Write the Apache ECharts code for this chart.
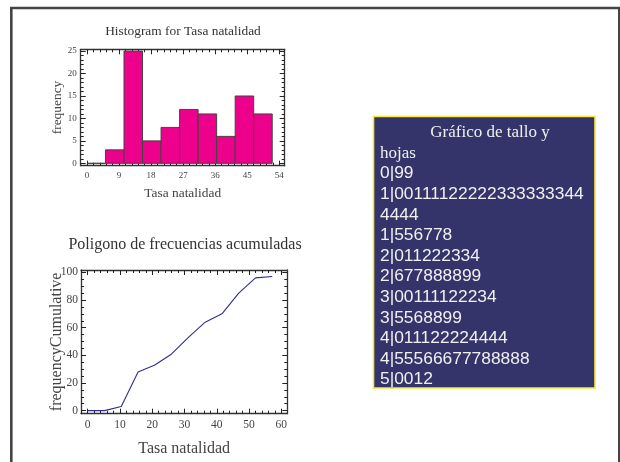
<!DOCTYPE html>
<html>
<head>
<meta charset="utf-8">
<script src="https://cdn.jsdelivr.net/npm/echarts@6/dist/echarts.min.js"></script>
<style>html,body{margin:0;padding:0;background:#fff}#c{width:620px;height:462px}</style>
</head>
<body>
<div id="c"></div>
<script>
// ---- data ----
const histBinLow  = [0, 5.2, 10.4, 15.6, 20.8, 26, 31.2, 36.4, 41.6, 46.8];
const histBinHigh = [5.2, 10.4, 15.6, 20.8, 26, 31.2, 36.4, 41.6, 46.8, 52];
const histCounts  = [0, 3, 25, 5, 8, 12, 11, 6, 15, 11];
const histXTicks  = [0, 9, 18, 27, 36, 45, 54];
const histYTicks  = [0, 5, 10, 15, 20, 25];

const cumX = [0, 5.2, 10.4, 15.6, 20.8, 26, 31.2, 36.4, 41.6, 46.8, 52, 57.2];
const cumY = [0, 0, 3, 28, 33, 41, 53, 64, 70, 85, 96, 97];
const cumXTicks = [0, 10, 20, 30, 40, 50, 60];
const cumYTicks = [0, 20, 40, 60, 80, 100];

const stemTitle = 'Gráfico de tallo y';
const stemSubtitle = 'hojas';
const stemLines = ['0|99', '1|00111122222333333344', '4444', '1|556778', '2|011222334',
  '2|677888899', '3|00111122234', '3|5568899', '4|011122224444', '4|55566677788888', '5|0012'];

// ---- helpers ----
const SERIF = '"Liberation Serif", "DejaVu Serif", serif';
const SANS = '"Liberation Sans", Arial, sans-serif';
const frameColor = '#333';

function minorsOf(min, max, step, majors) {
  const out = [];
  const start = Math.ceil(min / step - 1e-9);
  for (let k = start; k * step <= max + 1e-9; k++) {
    const v = +(k * step).toFixed(6);
    if (!majors.some(m => Math.abs(m - v) < 1e-6)) out.push(v);
  }
  return out;
}

function axisSet(kind, grid, min, max, majors, minors, lab, name) {
  const positions = kind === 'x' ? ['bottom', 'top'] : ['left', 'right'];
  const list = [];
  positions.forEach((pos, pi) => {
    [true, false].forEach(isMajor => {
      const vals = isMajor ? majors : minors;
      const main = pi === 0 && isMajor;
      const a = {
        type: 'value', gridIndex: grid, position: pos, min: min, max: max,
        axisLine: { show: isMajor, onZero: false, lineStyle: { color: frameColor, width: 1.3 } },
        axisTick: { show: true, inside: true, length: isMajor ? 5 : 3, customValues: vals,
          lineStyle: { color: '#222', width: 1 } },
        axisLabel: { show: main, customValues: vals, fontFamily: SERIF, fontSize: lab.size,
          color: '#444', margin: lab.margin },
        splitLine: { show: false }
      };
      if (main && name) {
        a.name = name.text;
        a.nameLocation = 'middle';
        a.nameGap = name.gap;
        a.nameMoveOverlap = false;
        a.nameTextStyle = { fontFamily: SERIF, fontSize: name.size, color: '#444' };
      }
      list.push(a);
    });
  });
  return list;
}

const xAxes = [].concat(
  axisSet('x', 0, -1.75, 55.5, histXTicks, minorsOf(-1.75, 55.5, 1.8, histXTicks),
    { size: 9, margin: 5 }, { text: 'Tasa natalidad', gap: 21, size: 13.4 }),
  axisSet('x', 1, -2.08, 61.85, cumXTicks, minorsOf(-2.08, 61.85, 2, cumXTicks),
    { size: 11.5, margin: 5 }, { text: 'Tasa natalidad', gap: 27, size: 16 })
);
const yAxes = [].concat(
  axisSet('y', 0, -0.53, 25.4, histYTicks, minorsOf(-0.53, 25.4, 1, histYTicks),
    { size: 9, margin: 4 }, { text: 'frequency', gap: 17, size: 13.4 }),
  axisSet('y', 1, -2.2, 101.7, cumYTicks, minorsOf(-2.2, 101.7, 5, cumYTicks),
    { size: 11.5, margin: 3 }, { text: 'frequencyCumulative', gap: 16, size: 16 })
);

const histData = histCounts.map((c, i) => [histBinLow[i], histBinHigh[i], c]);
const cumData = cumX.map((x, i) => [x, cumY[i]]);

// stem and leaf box texts
const boxX = 373.5, boxY = 116.5, boxW = 221.5, boxH = 271.5;
const lineH = 20.6, firstY = 132.5;
const stemGraphics = [
  { type: 'rect', shape: { x: boxX, y: boxY, width: boxW, height: boxH },
    style: { fill: '#34346a', stroke: '#f3e83c', lineWidth: 1.6 } },
  { type: 'text', x: 490, y: firstY,
    style: { text: stemTitle, font: '17px ' + SERIF, fill: '#f0f0f0', align: 'center', verticalAlign: 'middle' } },
  { type: 'text', x: 380, y: firstY + lineH,
    style: { text: stemSubtitle, font: '17px ' + SERIF, fill: '#f0f0f0', align: 'left', verticalAlign: 'middle' } }
].concat(stemLines.map((t, i) => ({
  type: 'text', x: 380, y: firstY + lineH * (i + 2),
  style: { text: t, font: '17.4px ' + SANS, fill: '#f0f0f0', align: 'left', verticalAlign: 'middle' }
})));

const option = {
  animation: false,
  grid: [
    { left: 80.7, top: 49.3, width: 204, height: 116.4 },
    { left: 81, top: 270, width: 206.3, height: 143.7 }
  ],
  xAxis: xAxes,
  yAxis: yAxes,
  graphic: [
    { type: 'rect', shape: { x: 11.3, y: 8, width: 608, height: 520 },
      style: { fill: 'none', stroke: '#444', lineWidth: 2.6 } },
    { type: 'text', x: 183, y: 31,
      style: { text: 'Histogram for Tasa natalidad', font: '13.4px ' + SERIF, fill: '#333', align: 'center', verticalAlign: 'middle' } },
    { type: 'text', x: 185, y: 245,
      style: { text: 'Poligono de frecuencias acumuladas', font: '16px ' + SERIF, fill: '#333', align: 'center', verticalAlign: 'middle' } }
  ].concat(stemGraphics),
  series: [
    {
      type: 'custom', xAxisIndex: 0, yAxisIndex: 0,
      encode: { x: [0, 1], y: 2 },
      data: histData,
      renderItem: function (params, api) {
        const p0 = api.coord([api.value(0), api.value(2)]);
        const p1 = api.coord([api.value(1), 0]);
        return { type: 'rect',
          shape: { x: p0[0], y: p0[1], width: p1[0] - p0[0], height: p1[1] - p0[1] },
          style: { fill: '#ec008c', stroke: '#444', lineWidth: 1 } };
      }
    },
    {
      type: 'line', xAxisIndex: 4, yAxisIndex: 4,
      data: cumData, showSymbol: false, symbol: 'none',
      lineStyle: { color: '#2e2e8e', width: 1.1 }
    }
  ]
};

const chart = echarts.init(document.getElementById('c'), null, { renderer: 'canvas' });
chart.setOption(option);
</script>
</body>
</html>
